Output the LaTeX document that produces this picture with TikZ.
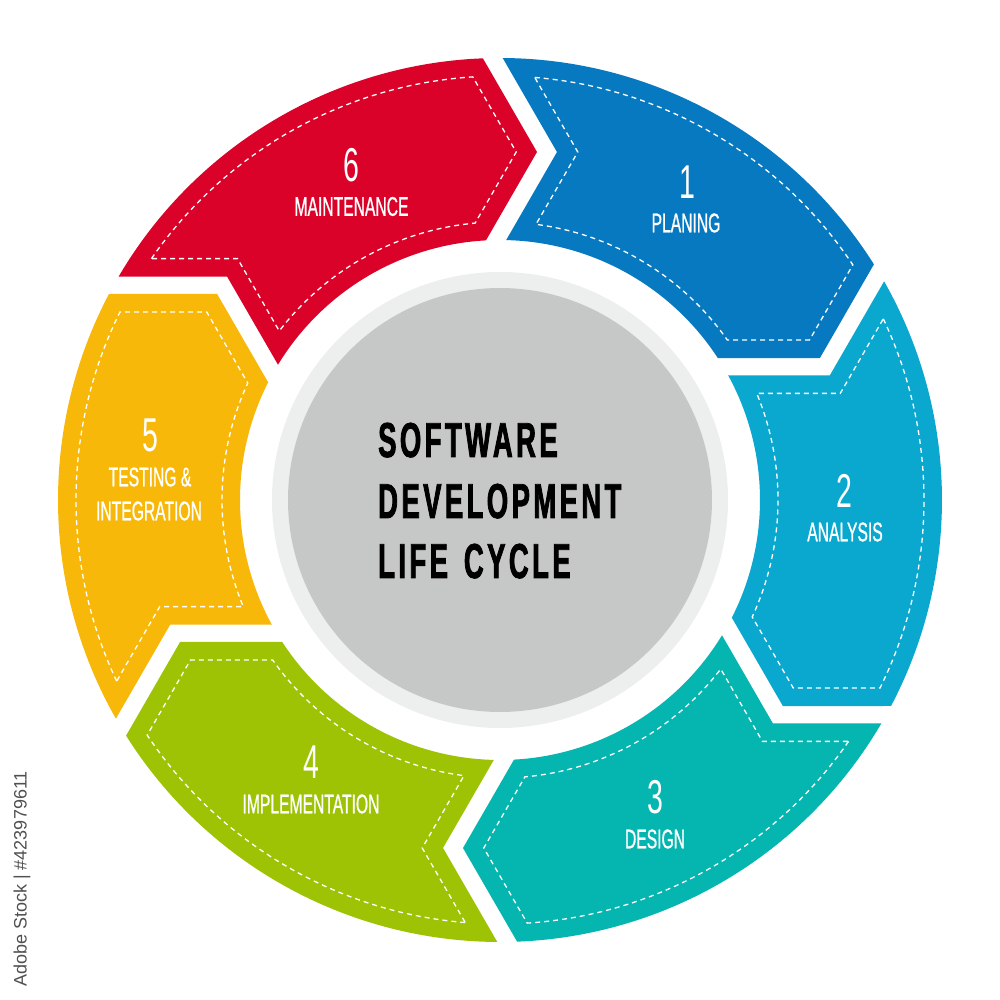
\documentclass[tikz,border=0pt]{standalone}
\usepackage{fontspec}
\setmainfont{Liberation Sans}
\newfontfamily\titlefont{Liberation Sans Bold}[FakeStretch=0.56,LetterSpace=7,FakeBold=1.6]
\newfontfamily\numfont{Liberation Sans}[FakeStretch=0.6]
\newfontfamily\labfont{Liberation Sans}[FakeStretch=0.58,FakeBold=0.8]
\definecolor{c1}{HTML}{0779C1}
\definecolor{c2}{HTML}{0AA8CF}
\definecolor{c3}{HTML}{05B5AF}
\definecolor{c4}{HTML}{9DC304}
\definecolor{c5}{HTML}{F8B80A}
\definecolor{c6}{HTML}{DB0229}
\definecolor{gcore}{HTML}{C6C7C7}
\definecolor{gring}{HTML}{EDEEEE}
\definecolor{wmgray}{HTML}{505050}
\begin{document}
\begin{tikzpicture}[x=1pt,y=1pt,
  stitch/.style={draw=white, line width=1.3pt, dash pattern=on 5pt off 4pt},
  num/.style={text=white, font=\numfont\fontsize{47.5}{47.5}\selectfont, inner sep=0pt},
  lab/.style={text=white, font=\labfont\fontsize{27}{27}\selectfont, inner sep=0pt},
  ttl/.style={text=black, font=\titlefont\fontsize{49}{49}\selectfont, inner sep=0pt, anchor=base west}]
\fill[white] (-500,-500) rectangle (500,500);
\useasboundingbox (-500,-500) rectangle (500,500);
\foreach \k/\col in {1/c1,2/c2,3/c3,4/c4,5/c5,6/c6}{
  \pgfmathsetmacro\s{90-60*(\k-1)}
  \pgfmathsetmacro\e{\s-60}
  \pgfmathsetmacro\aO{\s-0.35}
  \pgfmathsetmacro\bO{\e+2.22}
  \pgfmathsetmacro\tA{\e-6.07}
  \pgfmathsetmacro\bI{\e+3.09}
  \pgfmathsetmacro\aI{\s-1.36}
  \pgfmathsetmacro\nA{\s-9.30}
  \fill[\col] (\aO:442) arc[start angle=\aO, end angle=\bO, radius=442]
    -- (\tA:350) -- (\bI:260) arc[start angle=\bI, end angle=\aI, radius=260]
    -- (\nA:352.6) -- cycle;
  \pgfmathsetmacro\daO{\s-4.70}
  \pgfmathsetmacro\dbO{\e+3.68}
  \pgfmathsetmacro\dtA{\e-2.67}
  \pgfmathsetmacro\dbI{\e+5.14}
  \pgfmathsetmacro\daI{\s-7.44}
  \pgfmathsetmacro\dnA{\s-12.60}
  \draw[stitch] (\daO:424) arc[start angle=\daO, end angle=\dbO, radius=424]
    -- (\dtA:348.4) -- (\dbI:278) arc[start angle=\dbI, end angle=\daI, radius=278]
    -- (\dnA:356.6) -- cycle;
}
\fill[gring] (0,0) circle[radius=228];
\fill[gcore] (0,0) circle[radius=212];
\node[ttl] (t1) at (-122,43) {SOFTWARE};
\node[ttl] (t2) at (-122,-18) {DEVELOPMENT};
\node[ttl] (t3) at (-122,-78) {LIFE\hspace{16pt}CYCLE};
\node[num] (n1) at (187,318) {1};
\node[lab] (l1) at (186,277) {PLANING};
\node[num] (n2) at (344,9.5) {2};
\node[lab] (l2) at (345,-32) {ANALYSIS};
\node[num] (n3) at (155,-297) {3};
\node[lab] (l3) at (155,-339) {DESIGN};
\node[num] (n4) at (-189,-262) {4};
\node[lab] (l4) at (-189,-304) {IMPLEMENTATION};
\node[num] (n5) at (-350,65) {5};
\node[lab] (l5a) at (-350,23) {TESTING \&};
\node[lab] (l5b) at (-351,-11) {INTEGRATION};
\node[num] (n6) at (-149,335) {6};
\node[lab] (l6) at (-148.5,293.5) {MAINTENANCE};
\node[rotate=90, text=wmgray, font=\fontsize{18}{18}\selectfont, inner sep=0pt] (wm) at (-478,-379) {Adobe Stock | \#423979611};
\end{tikzpicture}
\end{document}
